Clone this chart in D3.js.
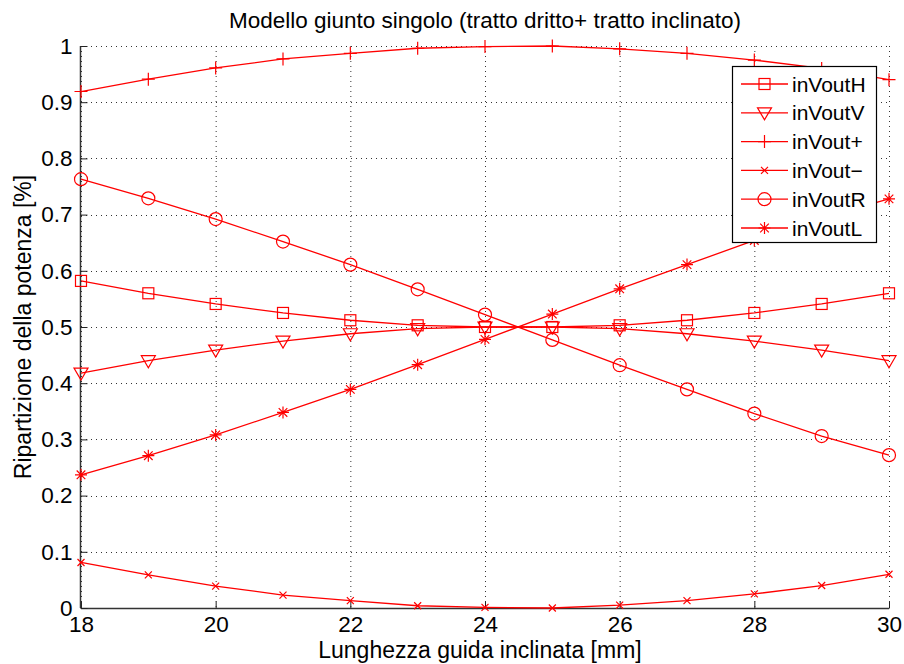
<!DOCTYPE html>
<html><head><meta charset="utf-8">
<script src="https://cdn.jsdelivr.net/npm/d3@7"></script>
<style>body{margin:0;background:#fff}svg{display:block}text{font-family:"Liberation Sans",Arial,sans-serif}</style>
</head><body><svg id="c" width="904" height="664"></svg>
<script>
const xValues = [18,19,20,21,22,23,24,25,26,27,28,29,30];
const seriesNames = ["inVoutH","inVoutV","inVout+","inVout\u2212","inVoutR","inVoutL"];
const inVoutH = [0.582,0.560,0.541,0.525,0.512,0.503,0.500,0.500,0.503,0.512,0.525,0.541,0.560];
const inVoutV = [0.418,0.440,0.459,0.475,0.488,0.497,0.500,0.500,0.497,0.488,0.475,0.459,0.440];
const inVoutPlus = [0.919,0.941,0.961,0.977,0.987,0.996,0.999,1.000,0.995,0.987,0.975,0.960,0.940];
const inVoutMinus = [0.081,0.059,0.039,0.023,0.013,0.004,0.001,0.000,0.005,0.013,0.025,0.040,0.060];
const inVoutR = [0.763,0.729,0.692,0.652,0.611,0.567,0.522,0.477,0.432,0.389,0.346,0.306,0.272];
const inVoutL = [0.237,0.271,0.308,0.348,0.389,0.433,0.478,0.523,0.568,0.611,0.654,0.694,0.728];
const markers = ["square","triangle","plus","cross","circle","star"];
const xTicks = [18,20,22,24,26,28,30];
const yTicks = [0,0.1,0.2,0.3,0.4,0.5,0.6,0.7,0.8,0.9,1];
const yTickLabels = ["0","0.1","0.2","0.3","0.4","0.5","0.6","0.7","0.8","0.9","1"];

const series = [inVoutH,inVoutV,inVoutPlus,inVoutMinus,inVoutR,inVoutL];
const svg = d3.select("#c");
const L=81,R=889,T=46,B=608;
const x = d3.scaleLinear().domain([18,30]).range([L,R]);
const y = d3.scaleLinear().domain([0,1]).range([B,T]);
const red="#ff0000";

// grid
const g = svg.append("g");
g.selectAll("line.gx").data(xTicks).join("line")
 .attr("x1",d=>x(d)+0.5).attr("x2",d=>x(d)+0.5).attr("y1",T).attr("y2",B)
 .attr("stroke","#333").attr("stroke-width",1).attr("stroke-dasharray","1,4");
g.selectAll("line.gy").data(yTicks).join("line")
 .attr("y1",d=>Math.round(y(d))+0.5).attr("y2",d=>Math.round(y(d))+0.5).attr("x1",L).attr("x2",R)
 .attr("stroke","#333").attr("stroke-width",1).attr("stroke-dasharray","1,4");

// axes
const xAxis = d3.axisBottom(x).tickValues(xTicks).tickSize(-7).tickPadding(8).tickFormat(d3.format("d"));
const yAxis = d3.axisLeft(y).tickValues(yTicks).tickSize(-7).tickPadding(8).tickFormat((d,i)=>yTickLabels[i]);
const gx = svg.append("g").attr("transform",`translate(0,${B+0.5})`).call(xAxis);
const gy = svg.append("g").attr("transform",`translate(${L-0.5},0)`).call(yAxis);
[gx,gy].forEach(a=>{
  a.select(".domain").attr("stroke","#333").attr("stroke-width",1.5);
  a.selectAll(".tick line").attr("stroke","#222");
  a.selectAll(".tick text").attr("font-size",22.5).attr("fill","#000").attr("font-family","Liberation Sans, Arial, sans-serif");
});
gy.select(".domain").attr("d",`M0,${B}V${T}`);
gx.select(".domain").attr("d",`M${L},0H${R}`);

// marker drawing
function drawMarker(sel, type, cx, cy){
  const m = sel.append("g").attr("transform",`translate(${cx},${cy})`)
    .attr("fill","none").attr("stroke",red).attr("stroke-width",1.2);
  if(type==="square") m.append("rect").attr("x",-5.5).attr("y",-5.5).attr("width",11).attr("height",11);
  else if(type==="triangle") m.append("path").attr("d","M-7,-5L7,-5L0,7Z");
  else if(type==="plus") m.append("path").attr("d","M-6.5,0H6.5M0,-6.5V6.5");
  else if(type==="cross") m.append("path").attr("d","M-3.5,-3.5L3.5,3.5M-3.5,3.5L3.5,-3.5");
  else if(type==="circle") m.append("circle").attr("r",6.5);
  else if(type==="star") m.append("path").attr("d","M-6,0H6M0,-6V6M-4.3,-4.3L4.3,4.3M-4.3,4.3L4.3,-4.3");
}

const line = d3.line().x((d,i)=>x(xValues[i])).y(d=>y(d));
const plot = svg.append("g");
series.forEach((s,k)=>{
  plot.append("path").datum(s).attr("d",line).attr("fill","none").attr("stroke",red).attr("stroke-width",1.3);
  s.forEach((v,i)=>drawMarker(plot,markers[k],x(xValues[i]),y(v)));
});

// legend
const lg = svg.append("g");
lg.append("rect").attr("x",732.5).attr("y",66.5).attr("width",144).attr("height",176)
  .attr("fill","#fff").attr("stroke","#000").attr("stroke-width",1.2);
seriesNames.forEach((n,k)=>{
  const yy = 84 + k*28.8;
  lg.append("line").attr("x1",741).attr("x2",788).attr("y1",yy).attr("y2",yy).attr("stroke",red).attr("stroke-width",1.3);
  drawMarker(lg,markers[k],764.5,yy);
  lg.append("text").attr("x",792).attr("y",yy+7.5).attr("font-size",21).attr("fill","#000").text(n);
});

// labels
svg.append("text").attr("x",485).attr("y",28).attr("text-anchor","middle").attr("font-size",22.5).attr("fill","#000")
  .text("Modello giunto singolo (tratto dritto+ tratto inclinato)");
svg.append("text").attr("x",480).attr("y",658).attr("text-anchor","middle").attr("font-size",23).attr("fill","#000")
  .text("Lunghezza guida inclinata [mm]");
svg.append("text").attr("transform","translate(31,327) rotate(-90)").attr("text-anchor","middle").attr("font-size",23).attr("fill","#000")
  .text("Ripartizione della potenza [%]");
</script></body></html>
